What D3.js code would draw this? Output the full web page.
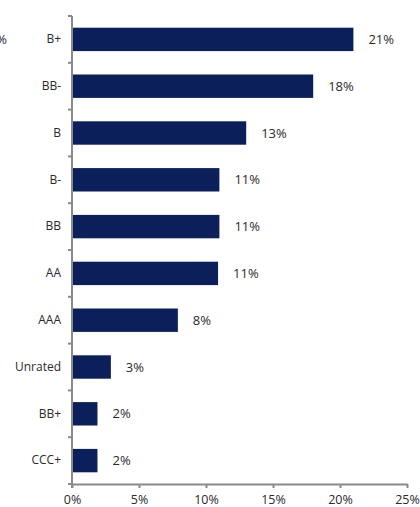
<!DOCTYPE html>
<html>
<head>
<meta charset="utf-8">
<script src="https://cdn.jsdelivr.net/npm/d3@7"></script>
<style>
body{margin:0;background:#fff;}
svg{display:block;font-family:"Open Sans",sans-serif;}
</style>
</head>
<body>
<svg id="chart" width="420" height="507"></svg>
<script>
const ratings=["B+","BB-","B","B-","BB","AA","AAA","Unrated","BB+","CCC+"];
const shares=[21,18,13,11,11,10.9,7.9,2.9,1.9,1.9];
const shareLabels=["21%","18%","13%","11%","11%","11%","8%","3%","2%","2%"];
const xTicks=[0,5,10,15,20,25];

const margin={left:72,right:13,top:16,bottom:23};
const width=420, height=507;
const barColor="#0b1f5b", axisColor="#8a8a8a", textColor="#2a2a2a";

const svg=d3.select("#chart");

let x=d3.scaleLinear([0,25],[margin.left,width-margin.right]);
let y=d3.scaleBand(ratings,[margin.top,height-margin.bottom])
  .paddingInner(0.5).paddingOuter(0.25);

// bars
svg.append("g").selectAll("rect")
  .data(ratings)
  .join("rect")
  .attr("x",x(0))
  .attr("y",d=>y(d))
  .attr("width",(d,i)=>x(shares[i])-x(0))
  .attr("height",y.bandwidth())
  .attr("fill",barColor);

// value labels
svg.append("g").selectAll("text")
  .data(ratings)
  .join("text")
  .attr("x",(d,i)=>x(shares[i])+15)
  .attr("y",d=>y(d)+y.bandwidth()/2)
  .attr("dy","0.35em")
  .attr("font-size",13)
  .attr("fill",textColor)
  .text((d,i)=>shareLabels[i]);

// y axis
let yAxis=d3.axisLeft(y).tickSize(0).tickPadding(11);
let gy=svg.append("g").attr("transform",`translate(${x(0)},0)`).call(yAxis);
gy.select(".domain").remove();
gy.selectAll("text").attr("font-size",12).attr("fill",textColor).attr("font-family","Open Sans, sans-serif");

let bounds=d3.range(ratings.length+1).map(i=>margin.top+i*y.step());
svg.append("g").selectAll("line")
  .data(bounds)
  .join("line")
  .attr("x1",x(0)-4).attr("x2",x(0))
  .attr("y1",d=>d).attr("y2",d=>d)
  .attr("stroke",axisColor).attr("stroke-width",2);
svg.append("line")
  .attr("x1",x(0)).attr("x2",x(0))
  .attr("y1",margin.top).attr("y2",height-margin.bottom+4)
  .attr("stroke",axisColor).attr("stroke-width",2);

// x axis
let xAxis=d3.axisBottom(x).tickValues(xTicks).tickFormat(d=>d+"%").tickSizeOuter(0).tickSizeInner(4).tickPadding(7);
let gx=svg.append("g").attr("transform",`translate(0,${height-margin.bottom})`).call(xAxis);
gx.select(".domain").attr("stroke",axisColor).attr("stroke-width",2);
gx.selectAll(".tick line").attr("stroke",axisColor).attr("stroke-width",2);
gx.selectAll("text").attr("font-size",12.5).attr("fill",textColor).attr("font-family","Open Sans, sans-serif");

// cut-off label from neighbouring panel
svg.append("text").attr("x",7).attr("y",y("B+")+y.bandwidth()/2).attr("dy","0.35em")
  .attr("text-anchor","end").attr("font-size",13).attr("fill",textColor).text("5%");
</script>
</body>
</html>
